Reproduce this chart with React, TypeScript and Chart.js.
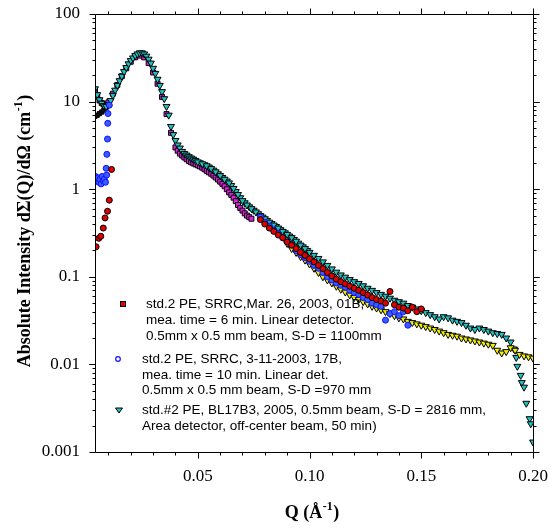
import React, { useEffect, useRef } from "react";
import { Chart, registerables } from "chart.js";
Chart.register(...registerables);

// ---- data (Q in 1/Å, intensity in 1/cm) ----
const cyanQ = [0.004, 0.005, 0.006, 0.007, 0.008, 0.009, 0.010, 0.011, 0.012, 0.013, 0.014, 0.015, 0.016, 0.017, 0.018, 0.019, 0.020, 0.021, 0.022, 0.023, 0.024, 0.025, 0.026, 0.027, 0.028, 0.029, 0.030, 0.031, 0.032, 0.033, 0.034, 0.035, 0.036, 0.037, 0.038, 0.039, 0.040, 0.041, 0.042, 0.043, 0.044, 0.045, 0.046, 0.047, 0.048, 0.049, 0.050, 0.052, 0.054, 0.056, 0.058, 0.060, 0.062, 0.064, 0.066, 0.068, 0.070, 0.072, 0.074, 0.076, 0.078, 0.080, 0.082, 0.084, 0.086, 0.088, 0.090, 0.092, 0.094, 0.096, 0.098, 0.100, 0.102, 0.104, 0.106, 0.108, 0.110, 0.112, 0.114, 0.116, 0.118, 0.120, 0.122, 0.124, 0.126, 0.128, 0.130, 0.132, 0.134, 0.136, 0.138, 0.140, 0.142, 0.144, 0.146, 0.148, 0.150, 0.152, 0.154, 0.156, 0.158, 0.160, 0.162, 0.164, 0.166, 0.168, 0.170, 0.172, 0.174, 0.176, 0.178, 0.180, 0.182, 0.184, 0.186, 0.188, 0.190, 0.1915, 0.1925, 0.193, 0.1945, 0.195, 0.196, 0.197, 0.1985, 0.199, 0.200];
const cyanI = [14, 12, 10.5, 9.6, 9.0, 8.8, 9.2, 10.3, 11.8, 13.5, 15.3, 17.3, 19.5, 22, 24.5, 27, 29.5, 31.5, 33.5, 35, 36, 36, 35, 33, 30.5, 27.5, 24, 21, 18, 15.3, 13, 10.8, 8.8, 7, 5.2, 4.2, 3.6, 3.2, 2.95, 2.7, 2.55, 2.45, 2.35, 2.27, 2.2, 2.12, 2.05, 1.95, 1.85, 1.72, 1.58, 1.43, 1.3, 1.18, 1.02, 0.87, 0.74, 0.66, 0.6, 0.55, 0.5, 0.46, 0.42, 0.39, 0.36, 0.33, 0.305, 0.28, 0.255, 0.23, 0.21, 0.19, 0.176, 0.162, 0.148, 0.135, 0.123, 0.113, 0.105, 0.099, 0.093, 0.088, 0.084, 0.079, 0.074, 0.07, 0.066, 0.063, 0.06, 0.057, 0.054, 0.052, 0.05, 0.047, 0.045, 0.043, 0.041, 0.039, 0.037, 0.035, 0.033, 0.035, 0.034, 0.032, 0.031, 0.03, 0.028, 0.026, 0.025, 0.026, 0.025, 0.024, 0.023, 0.0225, 0.022, 0.02, 0.018, 0.015, 0.012, 0.0095, 0.0075, 0.0062, 0.0055, 0.0036, 0.0024, 0.0021, 0.0013];
// intermediate readings of the same run where its markers crowd together
const cyanMidQ = [0.051, 0.053, 0.055, 0.057, 0.059, 0.061, 0.063, 0.065, 0.067, 0.069, 0.071, 0.073, 0.075, 0.077, 0.079, 0.081, 0.083, 0.085, 0.087, 0.089, 0.091, 0.093, 0.095, 0.097, 0.099];
const cyanMidI = [2.0, 1.9, 1.79, 1.65, 1.5, 1.36, 1.24, 1.1, 0.94, 0.8, 0.7, 0.63, 0.575, 0.525, 0.48, 0.44, 0.405, 0.375, 0.345, 0.318, 0.292, 0.267, 0.242, 0.22, 0.2];

const magentaQ = [0.004, 0.005, 0.006, 0.007, 0.008, 0.010, 0.012, 0.014, 0.016, 0.018, 0.020, 0.022, 0.024, 0.026, 0.028, 0.030, 0.032, 0.034, 0.036, 0.038, 0.040, 0.041, 0.042, 0.043, 0.044, 0.045, 0.046, 0.047, 0.048, 0.049, 0.050, 0.051, 0.052, 0.053, 0.054, 0.055, 0.056, 0.057, 0.058, 0.059, 0.060, 0.061, 0.062, 0.063, 0.064, 0.065, 0.066, 0.067, 0.068, 0.069, 0.070, 0.071, 0.072, 0.073, 0.074];
const magentaI = [13.5, 11.5, 10.3, 9.6, 9.3, 9.8, 12.3, 15.5, 19.5, 24, 28.5, 32, 33.5, 32, 27.5, 21.5, 16, 11.3, 7.2, 4.4, 3.0, 2.75, 2.55, 2.42, 2.3, 2.2, 2.1, 2.03, 1.97, 1.92, 1.87, 1.82, 1.76, 1.69, 1.62, 1.56, 1.5, 1.43, 1.36, 1.29, 1.22, 1.15, 1.08, 1.0, 0.92, 0.86, 0.8, 0.73, 0.66, 0.61, 0.57, 0.53, 0.5, 0.48, 0.46];

const darkQ = [0.004, 0.005, 0.006, 0.007, 0.008, 0.009];
const darkI = [6.8, 7.0, 7.3, 7.6, 8.0, 8.6];

const redQ = [0.0045, 0.0057, 0.0066, 0.0077, 0.0085, 0.0096, 0.0104, 0.0114, 0.078, 0.080, 0.082, 0.084, 0.086, 0.088, 0.090, 0.092, 0.094, 0.096, 0.098, 0.100, 0.102, 0.104, 0.106, 0.108, 0.110, 0.112, 0.114, 0.116, 0.118, 0.120, 0.122, 0.124, 0.126, 0.128, 0.130, 0.132, 0.134, 0.136, 0.138, 0.140, 0.142, 0.144, 0.146, 0.148, 0.150];
const redI = [0.22, 0.275, 0.29, 0.36, 0.47, 0.56, 0.75, 1.68, 0.45, 0.4, 0.36, 0.33, 0.3, 0.28, 0.25, 0.23, 0.21, 0.19, 0.175, 0.16, 0.148, 0.135, 0.124, 0.112, 0.102, 0.094, 0.088, 0.083, 0.078, 0.074, 0.07, 0.066, 0.062, 0.058, 0.055, 0.053, 0.05, 0.068, 0.048, 0.045, 0.044, 0.041, 0.045, 0.04, 0.043];

const blueQ = [0.0042, 0.0047, 0.0052, 0.0057, 0.0062, 0.0067, 0.0072, 0.0077, 0.0082, 0.0087, 0.0092, 0.0090, 0.0093, 0.0096, 0.0097, 0.0098, 0.0104, 0.078, 0.080, 0.082, 0.084, 0.086, 0.088, 0.090, 0.092, 0.094, 0.096, 0.098, 0.100, 0.102, 0.104, 0.106, 0.108, 0.110, 0.112, 0.114, 0.116, 0.118, 0.120, 0.122, 0.124, 0.126, 0.128, 0.130, 0.132, 0.134, 0.136, 0.138, 0.140, 0.142, 0.144];
const blueI = [1.4, 1.25, 1.35, 1.2, 1.3, 1.15, 1.4, 1.25, 1.3, 1.2, 1.45, 1.73, 2.5, 3.74, 5.65, 7.3, 9.1, 0.48, 0.42, 0.38, 0.34, 0.31, 0.28, 0.25, 0.23, 0.2, 0.18, 0.165, 0.15, 0.135, 0.125, 0.112, 0.1, 0.092, 0.085, 0.08, 0.076, 0.07, 0.066, 0.063, 0.058, 0.055, 0.05, 0.048, 0.046, 0.032, 0.038, 0.04, 0.036, 0.04, 0.028];

const yellowQ = [0.090, 0.092, 0.094, 0.096, 0.098, 0.100, 0.102, 0.104, 0.106, 0.108, 0.110, 0.112, 0.114, 0.116, 0.118, 0.120, 0.122, 0.124, 0.126, 0.128, 0.130, 0.132, 0.134, 0.136, 0.138, 0.140, 0.142, 0.144, 0.146, 0.148, 0.150, 0.152, 0.154, 0.156, 0.158, 0.160, 0.162, 0.164, 0.166, 0.168, 0.170, 0.172, 0.174, 0.176, 0.178, 0.180, 0.182, 0.184, 0.186, 0.188, 0.190, 0.192, 0.194, 0.196, 0.198, 0.200];
const yellowI = [0.24, 0.21, 0.19, 0.17, 0.155, 0.14, 0.125, 0.112, 0.1, 0.092, 0.085, 0.078, 0.072, 0.067, 0.062, 0.058, 0.055, 0.052, 0.049, 0.046, 0.044, 0.042, 0.04, 0.038, 0.036, 0.034, 0.033, 0.031, 0.03, 0.029, 0.028, 0.027, 0.026, 0.025, 0.024, 0.023, 0.022, 0.0215, 0.021, 0.02, 0.0195, 0.019, 0.0185, 0.018, 0.0175, 0.017, 0.0165, 0.0145, 0.0135, 0.014, 0.0155, 0.0145, 0.013, 0.0125, 0.0122, 0.0118];

const xTickValues = [0.05, 0.1, 0.15, 0.2];
const yTickValues = [0.001, 0.01, 0.1, 1, 10, 100];
const yTickLabels = ["0.001", "0.01", "0.1", "1", "10", "100"];

const legendLines = [
  ["std.2 PE, SRRC,Mar. 26, 2003, 01B,", "mea. time = 6 min. Linear detector.", "0.5mm x 0.5 mm beam, S-D = 1100mm"],
  ["std.2 PE, SRRC, 3-11-2003, 17B,", "mea. time = 10 min. Linear det.", "0.5mm x 0.5 mm beam, S-D =970 mm"],
  ["std.#2 PE, BL17B3, 2005, 0.5mm beam, S-D = 2816 mm,", "Area detector, off-center beam, 50 min)"],
];

const mk = (q: number[], v: number[]) => q.map((x, i) => ({ x, y: v[i] }));

const framePlugin = {
  id: "frame",
  afterDraw(chart: any) {
    const { ctx, chartArea: a, scales } = chart;
    const xs = scales.x, ys = scales.y;
    ctx.save();
    ctx.strokeStyle = "#000";
    ctx.lineWidth = 1;
    const L = Math.round(a.left) + 0.5, R = Math.round(a.right) + 0.5;
    const T = Math.round(a.top) + 0.5, B = Math.round(a.bottom) + 0.5;
    ctx.beginPath();
    ctx.moveTo(L, T); ctx.lineTo(R, T); ctx.lineTo(R, B); ctx.lineTo(L, B); ctx.closePath();
    for (let i = 1; i <= 20; i++) {
      const v = i / 100;
      const px = Math.round(xs.getPixelForValue(v)) + 0.5;
      const len = i % 5 === 0 ? 6 : 3;
      ctx.moveTo(px, B); ctx.lineTo(px, B + len);
      ctx.moveTo(px, T); ctx.lineTo(px, T - len);
    }
    for (let e = -3; e <= 1; e++) {
      for (let m = 1; m <= 10; m++) {
        const v = m * Math.pow(10, e);
        const py = Math.round(ys.getPixelForValue(v)) + 0.5;
        const len = m === 1 || m === 10 ? 6 : 3;
        ctx.moveTo(L, py); ctx.lineTo(L - len, py);
        ctx.moveTo(R, py); ctx.lineTo(R + len, py);
      }
    }
    ctx.stroke();

    // axis titles
    ctx.fillStyle = "#000";
    ctx.textBaseline = "middle";
    ctx.textAlign = "left";
    const big = "bold 18px 'Liberation Serif', 'Times New Roman', serif";
    const small = "bold 12px 'Liberation Serif', 'Times New Roman', serif";
    const drawSup = (cx: number, cy: number, a1: string, sup: string, a3: string) => {
      ctx.font = big;
      const w1 = ctx.measureText(a1).width;
      const w3 = ctx.measureText(a3).width;
      ctx.font = small;
      const ws = ctx.measureText(sup).width;
      const total = w1 + ws + w3 + 1;
      let x = cx - total / 2;
      ctx.font = big;
      ctx.fillText(a1, x, cy);
      x += w1 + 0.5;
      ctx.font = small;
      ctx.fillText(sup, x, cy - 6);
      x += ws + 0.5;
      ctx.font = big;
      ctx.fillText(a3, x, cy);
    };
    drawSup((a.left + a.right) / 2 - 2, 513, "Q (Å", "-1", ")");
    ctx.save();
    ctx.translate(25, (a.top + a.bottom) / 2 - 2);
    ctx.rotate(-Math.PI / 2);
    drawSup(0, 0, "Absolute Intensity dΣ(Q)/dΩ (cm", "-1", ")");
    ctx.restore();

    // legend
    ctx.font = "13.5px 'Liberation Sans', Arial, sans-serif";
    ctx.fillStyle = "#000";
    const groupY = [[304, 320, 336], [359, 375, 390], [410, 426]];
    const groupX = [146, 142, 142];
    legendLines.forEach((lines, g) => {
      lines.forEach((t, j) => ctx.fillText(t, groupX[g], groupY[g][j]));
    });
    ctx.lineWidth = 1;
    ctx.fillStyle = "#e00000"; ctx.strokeStyle = "#000";
    ctx.fillRect(121, 302, 4, 4); ctx.strokeRect(120.5, 301.5, 5, 5);
    ctx.strokeStyle = "#1010ff"; ctx.lineWidth = 1.2;
    ctx.beginPath(); ctx.arc(118, 359, 2.3, 0, Math.PI * 2); ctx.stroke();
    ctx.lineWidth = 1;
    ctx.fillStyle = "#20c0c0"; ctx.strokeStyle = "#000";
    ctx.beginPath(); ctx.moveTo(115.5, 408); ctx.lineTo(122.5, 408); ctx.lineTo(119, 413); ctx.closePath(); ctx.fill(); ctx.stroke();
    ctx.restore();
  },
};

export default function App() {
  const ref = useRef<HTMLCanvasElement>(null);
  useEffect(() => {
    document.body.style.margin = "0";
    const canvas = ref.current!;
    const tickFont = { family: "'Liberation Serif', 'Times New Roman', serif", size: 17 };
    const zeroPad = (s: any) => { s.paddingTop = 0; s.paddingBottom = 0; s.paddingLeft = 0; s.paddingRight = 0; };
    const tri = { pointStyle: "triangle", rotation: 180, pointRadius: 4, borderColor: "#000", borderWidth: 1 };
    const chart = new Chart(canvas, {
      type: "scatter",
      data: {
        datasets: [
          { label: "red", data: mk(redQ, redI), pointStyle: "circle", pointRadius: 3, backgroundColor: "#e00000", borderColor: "#000", borderWidth: 1 },
          { label: "blue", data: mk(blueQ, blueI), pointStyle: "circle", pointRadius: 3, backgroundColor: "#3a5cff", borderColor: "#1010ff", borderWidth: 1 },
          { label: "yellow", data: mk(yellowQ, yellowI), ...tri, backgroundColor: "#f0f000" },
          { label: "cyan", data: mk(cyanQ, cyanI), ...tri, backgroundColor: "#20c0c0" },
          { label: "cyanMid", data: mk(cyanMidQ, cyanMidI), ...tri, backgroundColor: "#20c0c0" },
          { label: "magenta", data: mk(magentaQ, magentaI), pointStyle: "rect", pointRadius: 3.5, backgroundColor: "#e020e0", borderColor: "#000", borderWidth: 1 },
          { label: "dark", data: mk(darkQ, darkI), pointStyle: "rect", pointRadius: 3, backgroundColor: "#111", borderColor: "#000", borderWidth: 1 },
        ] as any,
      },
      options: {
        responsive: false,
        animation: false,
        layout: { padding: { left: 0, right: 18, top: 14, bottom: 0 } },
        plugins: { legend: { display: false }, tooltip: { enabled: false } },
        scales: {
          x: {
            type: "linear",
            min: 0.004,
            max: 0.2,
            afterBuildTicks: (s: any) => { s.ticks = xTickValues.map((v) => ({ value: v })); },
            afterFit: (s: any) => { s.height = 76; zeroPad(s); },
            grid: { display: false, drawTicks: false },
            border: { display: false },
            ticks: { padding: 14, font: tickFont, color: "#000", maxRotation: 0, autoSkip: false, callback: (v: any) => Number(v).toFixed(2) },
          },
          y: {
            type: "logarithmic",
            min: 0.001,
            max: 100,
            afterBuildTicks: (s: any) => { s.ticks = yTickValues.map((v) => ({ value: v })); },
            afterFit: (s: any) => { s.width = 95; zeroPad(s); },
            grid: { display: false, drawTicks: false },
            border: { display: false },
            ticks: {
              padding: 15, font: tickFont, color: "#000", autoSkip: false,
              callback: (v: any) => {
                const i = yTickValues.findIndex((t) => Math.abs(Math.log10(t) - Math.log10(Number(v))) < 1e-6);
                return i >= 0 ? yTickLabels[i] : "";
              },
            },
          },
        },
      } as any,
      plugins: [framePlugin],
    });
    return () => chart.destroy();
  }, []);
  return <canvas ref={ref} width={551} height={528} style={{ display: "block" }} />;
}
